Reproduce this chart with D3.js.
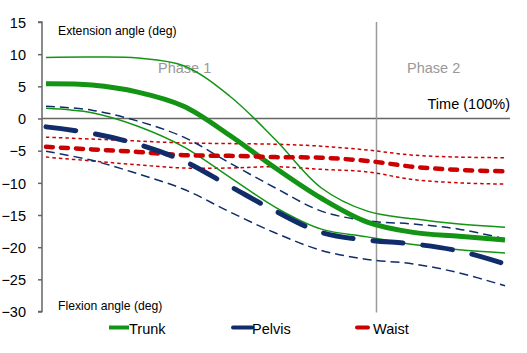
<!DOCTYPE html>
<html><head><meta charset="utf-8">
<script src="https://cdn.jsdelivr.net/npm/d3@7"></script>
<style>
html,body{margin:0;padding:0;background:#fff;}
svg{display:block;font-family:"Liberation Sans",Arial,sans-serif;}
</style></head>
<body><svg id="c" width="527" height="353"></svg>
<script>
// Time (% of movement)
const time = [0,10,20,30,40,50,60,70,80,90,100];
// Trunk
const trunkMean  = [5.4,5.2,4.1,1.9,-2.6,-7.7,-12.4,-16.1,-17.7,-18.3,-18.9];
const trunkUpper = [9.5,9.55,9.4,8.2,3.5,-3.3,-10.8,-14.4,-15.6,-16.4,-16.9];
const trunkLower = [1.6,0.9,-1.2,-4.4,-9.1,-13.8,-17.2,-18.4,-19.6,-20.4,-20.9];
// Pelvis
const pelvisMean  = [-1.3,-2.3,-4.0,-6.6,-10.5,-14.4,-17.7,-18.9,-19.5,-20.6,-22.6];
const pelvisUpper = [1.9,1.3,-0.4,-2.9,-6.9,-10.8,-14.4,-15.9,-16.4,-17.2,-18.7];
const pelvisLower = [-5.1,-6.5,-8.6,-11.0,-14.5,-17.8,-20.5,-21.9,-22.6,-24.0,-26.0];
// Waist
const waistMean  = [-4.4,-4.8,-5.2,-5.7,-5.8,-6.0,-6.1,-6.6,-7.5,-8.0,-8.2];
const waistUpper = [-2.9,-3.2,-3.5,-3.8,-3.9,-4.0,-4.3,-4.9,-5.7,-6.0,-6.1];
const waistLower = [-6.0,-6.6,-7.2,-7.7,-7.7,-7.5,-7.9,-8.3,-9.5,-10.0,-10.2];
const yTicks = [15,10,5,0,-5,-10,-15,-20,-25,-30];
const phaseBoundary = 72;
const phaseLabels = ["Phase 1","Phase 2"];
const legendNames = ["Trunk","Pelvis","Waist"];

const svg = d3.select("#c");
const y = d3.scaleLinear().domain([-30,15]).range([311.5,22]);
const x = d3.scaleLinear().domain([0,100]).range([46,505]);

const GREEN="#149414", NAVY="#102c6a", RED="#cc0000";

// Y axis
const yAxis = d3.axisLeft(y).tickValues(yTicks).tickSize(4).tickPadding(12).tickFormat(d3.format("d"));
const ga = svg.append("g").attr("transform","translate(42,0)").call(yAxis);
ga.select(".domain").attr("stroke","#666").attr("stroke-width",1.5).attr("d","M-4,"+y(15)+"H0V"+y(-30)+"H-4");
ga.selectAll(".tick line").attr("stroke","#666").attr("stroke-width",1.5);
ga.selectAll(".tick text").attr("font-size",14.5).attr("fill","#000").attr("font-family","Liberation Sans, Arial, sans-serif").attr("dy","0.36em");

// zero line
svg.append("line").attr("x1",42).attr("x2",510).attr("y1",y(0)).attr("y2",y(0))
  .attr("stroke","#666").attr("stroke-width",1.5);
// phase divider
svg.append("line").attr("x1",x(phaseBoundary)).attr("x2",x(phaseBoundary)).attr("y1",y(15)).attr("y2",y(-30)+1)
  .attr("stroke","#999").attr("stroke-width",1.5);

// texts
svg.append("text").attr("x",58).attr("y",35).attr("font-size",12.2).text("Extension angle (deg)");
svg.append("text").attr("x",58).attr("y",310).attr("font-size",12.2).text("Flexion angle (deg)");
svg.append("text").attr("x",158).attr("y",73).attr("font-size",14.5).attr("fill","#999").text(phaseLabels[0]);
svg.append("text").attr("x",407).attr("y",73).attr("font-size",14.5).attr("fill","#999").text(phaseLabels[1]);
svg.append("text").attr("x",510).attr("y",109).attr("font-size",14.5).attr("text-anchor","end").text("Time (100%)");

const line = arr => d3.line().x((d,i)=>x(time[i])).y(d=>y(d)).curve(d3.curveCatmullRom.alpha(0.5))(arr);
function draw(arr,color,w,dash,cap){
  svg.append("path").attr("d",line(arr)).attr("fill","none").attr("stroke",color)
    .attr("stroke-width",w).attr("stroke-dasharray",dash||null).attr("stroke-linecap",cap||"butt");
}
// waist
draw(waistUpper,RED,1.5,"3.5,3");
draw(waistLower,RED,1.5,"3.5,3");
// pelvis bounds
draw(pelvisUpper,NAVY,1.5,"9,5");
draw(pelvisLower,NAVY,1.5,"9,5");
// trunk
draw(trunkUpper,GREEN,1.5);
draw(trunkLower,GREEN,1.5);
draw(trunkMean,GREEN,5);
// means
draw(waistMean,RED,4.5,"7,8","round");
draw(pelvisMean,NAVY,5,"30,20","round");

// legend
const legendColors=[GREEN,NAVY,RED];
const legX=[[109,129],[233,252],[357,368]];
const legTextX=[129,252,373];
legendNames.forEach((n,i)=>{
  svg.append("line").attr("x1",legX[i][0]).attr("x2",legX[i][1]).attr("y1",327.5).attr("y2",327.5)
    .attr("stroke",legendColors[i]).attr("stroke-width",4).attr("stroke-linecap", i===0?"butt":"round");
  svg.append("text").attr("x",legTextX[i]).attr("y",334).attr("font-size",14.5).text(n);
});
</script></body></html>
